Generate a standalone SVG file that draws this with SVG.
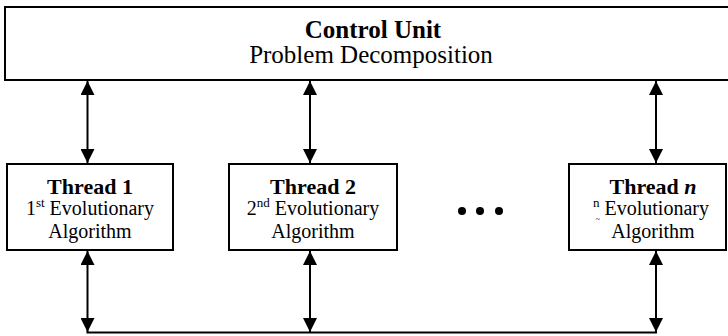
<svg xmlns="http://www.w3.org/2000/svg" width="728" height="336" viewBox="0 0 728 336">
<style>
.box{fill:#fff;stroke:#000;stroke-width:2}
.t{font-family:"Liberation Serif","DejaVu Serif","Times New Roman",serif;fill:#000;text-anchor:middle}
.b{font-weight:bold}
.big{font-size:25px}
.h{font-size:22px}
.r{font-size:20px}
.sup{font-size:13px}
.conn line{stroke:#000;stroke-width:2;fill:none}
</style>
<defs>
<marker id="ah" markerUnits="userSpaceOnUse" markerWidth="14" markerHeight="14" refX="14" refY="7" orient="auto-start-reverse" viewBox="0 0 14 14">
<path d="M0,0 L14,7 L0,14 Z" fill="#000"/>
</marker>
</defs>
<rect width="728" height="336" fill="#fff"/>
<g id="control-unit">
<rect class="box" x="5" y="7" width="740" height="73"/>
<text class="t b big" x="373" y="38">Control Unit</text>
<text class="t big" x="371" y="63">Problem Decomposition</text>
</g>
<g id="thread-1">
<rect class="box" x="7" y="164" width="166" height="86"/>
<text class="t b h" x="90" y="194">Thread 1</text>
<text class="t r" x="90" y="215">1<tspan class="sup" dy="-8">st</tspan><tspan dy="8"> Evolutionary</tspan></text>
<text class="t r" x="90" y="238">Algorithm</text>
</g>
<g id="thread-2">
<rect class="box" x="229" y="164" width="168" height="86"/>
<text class="t b h" x="313" y="194">Thread 2</text>
<text class="t r" x="313" y="215">2<tspan class="sup" dy="-8">nd</tspan><tspan dy="8"> Evolutionary</tspan></text>
<text class="t r" x="313" y="238">Algorithm</text>
</g>
<g id="ellipsis">
<circle cx="462" cy="211" r="4" fill="#000"/>
<circle cx="480" cy="211" r="4" fill="#000"/>
<circle cx="499" cy="211" r="4" fill="#000"/>
</g>
<g id="thread-n">
<rect class="box" x="569" y="164" width="157" height="86"/>
<text class="t b h" x="653" y="194">Thread <tspan font-style="italic">n</tspan></text>
<text class="t r" x="651" y="215"><tspan class="sup" dy="-8">n</tspan><tspan dy="8"> Evolutionary</tspan></text>
<text class="t" x="598" y="222" font-size="8" fill="#666">~</text>
<text class="t r" x="653" y="238">Algorithm</text>
</g>
<g id="connectors" class="conn">
<line x1="87.5" y1="81" x2="87.5" y2="163" marker-start="url(#ah)" marker-end="url(#ah)"/>
<line x1="310" y1="81" x2="310" y2="163" marker-start="url(#ah)" marker-end="url(#ah)"/>
<line x1="656" y1="81" x2="656" y2="163" marker-start="url(#ah)" marker-end="url(#ah)"/>
<line x1="87.5" y1="251" x2="87.5" y2="332" marker-start="url(#ah)" marker-end="url(#ah)"/>
<line x1="310" y1="251" x2="310" y2="332" marker-start="url(#ah)" marker-end="url(#ah)"/>
<line x1="656" y1="251" x2="656" y2="332" marker-start="url(#ah)" marker-end="url(#ah)"/>
<line x1="86.5" y1="332.5" x2="657" y2="332.5"/>
</g>
</svg>
